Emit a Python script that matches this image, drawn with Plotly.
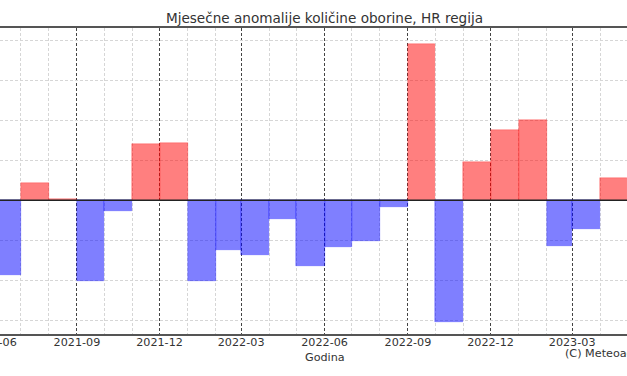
import plotly.graph_objects as go
import pandas as pd

# Monthly precipitation anomalies (mm), HR region
months = ["2021-06", "2021-07", "2021-08", "2021-09", "2021-10", "2021-11", "2021-12",
          "2022-01", "2022-02", "2022-03", "2022-04", "2022-05", "2022-06", "2022-07",
          "2022-08", "2022-09", "2022-10", "2022-11", "2022-12", "2023-01", "2023-02",
          "2023-03", "2023-04"]
anomalies = [-47, 11, 0.5, -50.5, -6.5, 35, 36,
             -50.5, -31, -34, -11.5, -41, -29.5, -25.5,
             -4.5, 98, -76, 24, 44, 50, -28.5,
             -18, 14]

title_text = "Mjesečne anomalije količine oborine, HR regija"
xlabel_text = "Godina"
credit_text = "(C) Meteoadriatic"

starts = pd.to_datetime([m + "-01" for m in months])
widths_ms = [((s + pd.offsets.MonthBegin(1)) - s).total_seconds() * 1000 for s in starts]
colors = ["rgba(255,0,0,0.5)" if v >= 0 else "rgba(0,0,255,0.5)" for v in anomalies]

fig = go.Figure(go.Bar(
    x=starts, y=anomalies, width=widths_ms, offset=0,
    marker=dict(color=colors, line=dict(color=colors, width=0.5)),
    hoverinfo="x+y",
))

W, H = 627, 376
font = "DejaVu Sans, Verdana, sans-serif"
fig.update_layout(
    width=W, height=H,
    margin=dict(l=0, r=0, t=28, b=42),
    paper_bgcolor="white", plot_bgcolor="white",
    showlegend=False,
    bargap=0,
    font=dict(family=font, size=11.2, color="#333"),
    title=dict(text=title_text, x=324.5 / W, xanchor="center",
               y=1 - 18 / H, yanchor="middle",
               font=dict(family=font, size=13.6, color="#333")),
)
fig.update_xaxes(
    type="date",
    range=["2021-06-08 02:24", "2023-04-30 12:00"],
    tick0="2021-09-01", dtick="M3", tickformat="%Y-%m",
    ticks="", ticklabelstandoff=-3,
    showgrid=True, gridcolor="#444", gridwidth=0.8, griddash="3px,2px",
    minor=dict(dtick="M1", tick0="2021-06-01", showgrid=True,
               gridcolor="#d6d6d6", gridwidth=0.8, griddash="3px,2px", ticks=""),
    showline=True, mirror=True, linecolor="#555", linewidth=1.5,
    tickfont=dict(family=font, size=11.2, color="#333"),
)
fig.update_yaxes(
    range=[-83.75, 107.8],
    dtick=25, tick0=0,
    showticklabels=False, ticks="",
    showgrid=True, gridcolor="#d6d6d6", gridwidth=0.8, griddash="3px,2px",
    zeroline=False,
    showline=False,
)

# zero line drawn above the bars
fig.add_shape(type="line", xref="paper", yref="y", x0=0, x1=1, y0=0, y1=0,
              line=dict(color="#222", width=1.5), layer="above")

fig.add_annotation(text="2021-06", xref="paper", yref="paper",
                   x=-6.4 / W, y=-(343 - 334) / 306, xanchor="center", yanchor="middle",
                   showarrow=False, font=dict(family=font, size=11.2, color="#333"))
fig.add_annotation(text=xlabel_text, xref="paper", yref="paper",
                   x=325 / W, y=-(357 - 334) / 306, xanchor="center", yanchor="middle",
                   showarrow=False, font=dict(family=font, size=11.2, color="#333"))
fig.add_annotation(text=credit_text, xref="paper", yref="paper",
                   x=563 / W, y=-(353 - 334) / 306, xanchor="left", yanchor="middle",
                   showarrow=False, font=dict(family=font, size=11.2, color="#333"))

fig.write_html("out.html", config={"displayModeBar": False},
               post_script="document.body.style.margin='0';document.body.style.overflow='hidden';")
